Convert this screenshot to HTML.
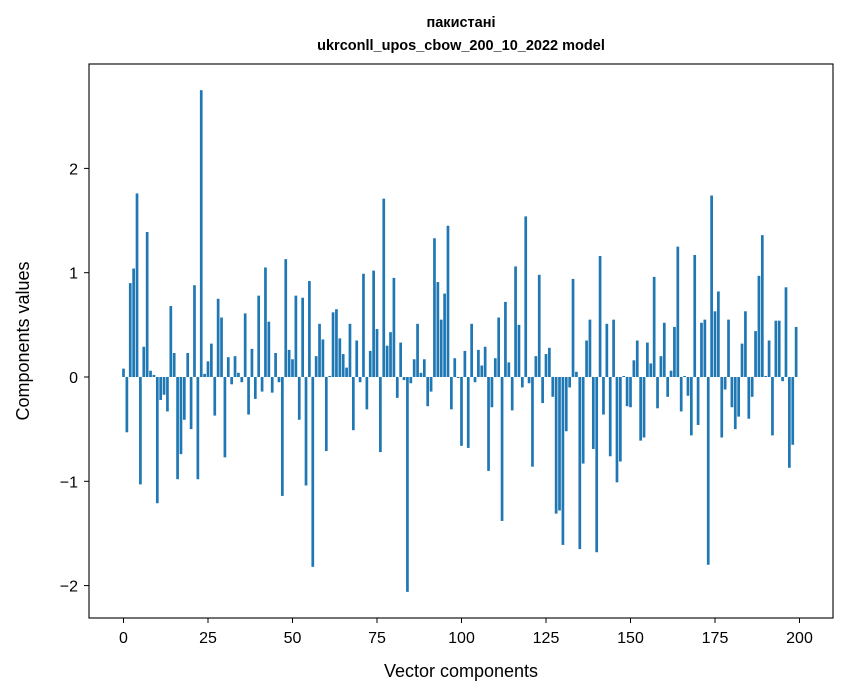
<!DOCTYPE html>
<html><head><meta charset="utf-8"><style>
body{margin:0;background:#fff;}
svg{display:block;font-family:"Liberation Sans","DejaVu Sans",sans-serif;}
</style></head><body>
<svg id="chart" width="847" height="696" viewBox="0 0 847 696" xmlns="http://www.w3.org/2000/svg">
<rect width="847" height="696" fill="#fff"/>
<text x="461" y="27" text-anchor="middle" font-size="14.5" font-weight="bold">пакистані</text>
<text x="461" y="50" text-anchor="middle" font-size="14.5" font-weight="bold">ukrconll_upos_cbow_200_10_2022 model</text>
<g id="bars"></g>
<g id="axes"></g>
<rect x="89" y="64" width="744" height="554" fill="none" stroke="#000" stroke-width="1.1"/>
<text x="461" y="677" text-anchor="middle" font-size="18">Vector components</text>
<text transform="translate(29,341) rotate(-90)" text-anchor="middle" font-size="18">Components values</text>
</svg>
<script>
const values = [0.08,-0.53,0.90,1.04,1.76,-1.03,0.29,1.39,0.06,0.02,
-1.21,-0.22,-0.17,-0.33,0.68,0.23,-0.98,-0.74,-0.41,0.23,
-0.50,0.88,-0.98,2.75,0.03,0.15,0.32,-0.37,0.75,0.57,
-0.77,0.19,-0.07,0.20,0.04,-0.05,0.61,-0.36,0.27,-0.21,
0.78,-0.14,1.05,0.53,-0.15,0.23,-0.05,-1.14,1.13,0.26,
0.17,0.78,-0.41,0.76,-1.04,0.92,-1.82,0.20,0.51,0.36,
-0.71,0.01,0.62,0.65,0.37,0.22,0.09,0.51,-0.51,0.35,
-0.05,0.99,-0.31,0.25,1.02,0.46,-0.72,1.71,0.30,0.43,
0.95,-0.20,0.33,-0.03,-2.06,-0.06,0.17,0.51,0.04,0.17,
-0.28,-0.14,1.33,0.91,0.55,0.80,1.45,-0.31,0.18,-0.01,
-0.66,0.25,-0.68,0.51,-0.05,0.26,0.11,0.29,-0.90,-0.29,
0.18,0.57,-1.38,0.72,0.14,-0.32,1.06,0.50,-0.10,1.54,
-0.06,-0.86,0.20,0.98,-0.25,0.22,0.28,-0.19,-1.31,-1.28,
-1.61,-0.52,-0.10,0.94,0.05,-1.65,-0.83,0.35,0.55,-0.69,
-1.68,1.16,-0.36,0.51,-0.76,0.55,-1.01,-0.81,0.01,-0.28,
-0.29,0.16,0.35,-0.61,-0.58,0.33,0.13,0.96,-0.30,0.20,
0.52,-0.19,0.06,0.48,1.25,-0.33,0.01,-0.18,-0.56,1.17,
-0.46,0.52,0.55,-1.80,1.74,0.63,0.82,-0.58,-0.12,0.55,
-0.29,-0.50,-0.38,0.32,0.63,-0.40,-0.19,0.44,0.97,1.36,
0.01,0.35,-0.56,0.54,0.54,-0.04,0.86,-0.87,-0.65,0.48];
const xTicks = [0,25,50,75,100,125,150,175,200];
const yTicks = [-2,-1,0,1,2];
const NS = "http://www.w3.org/2000/svg";
const xs = v => 123.5 + 3.38 * v;
const ys = v => 377 - 104.3 * v;
const barsG = document.getElementById('bars');
values.forEach((v, i) => {
  const r = document.createElementNS(NS, 'rect');
  const w = 0.8 * 3.38;
  r.setAttribute('x', xs(i) - w / 2);
  r.setAttribute('width', w);
  r.setAttribute('y', Math.min(ys(v), ys(0)));
  r.setAttribute('height', Math.abs(ys(v) - ys(0)));
  r.setAttribute('fill', '#1f77b4');
  
  
  barsG.appendChild(r);
});
const axesG = document.getElementById('axes');
xTicks.forEach(t => {
  const l = document.createElementNS(NS, 'line');
  l.setAttribute('x1', xs(t)); l.setAttribute('x2', xs(t));
  l.setAttribute('y1', 618); l.setAttribute('y2', 623);
  l.setAttribute('stroke', '#000');
  
  
  axesG.appendChild(l);
  const tx = document.createElementNS(NS, 'text');
  tx.setAttribute('x', xs(t)); tx.setAttribute('y', 643);
  tx.setAttribute('text-anchor', 'middle'); tx.setAttribute('font-size', '16');
  tx.textContent = t;
  
  
  axesG.appendChild(tx);
});
yTicks.forEach(t => {
  const l = document.createElementNS(NS, 'line');
  l.setAttribute('x1', 84); l.setAttribute('x2', 89);
  l.setAttribute('y1', ys(t)); l.setAttribute('y2', ys(t));
  l.setAttribute('stroke', '#000');
  
  
  axesG.appendChild(l);
  const tx = document.createElementNS(NS, 'text');
  tx.setAttribute('x', 78); tx.setAttribute('y', ys(t) + 6);
  tx.setAttribute('text-anchor', 'end'); tx.setAttribute('font-size', '16');
  tx.textContent = t < 0 ? '\u2212' + Math.abs(t) : String(t);
  
  
  axesG.appendChild(tx);
});
</script>
</body></html>
